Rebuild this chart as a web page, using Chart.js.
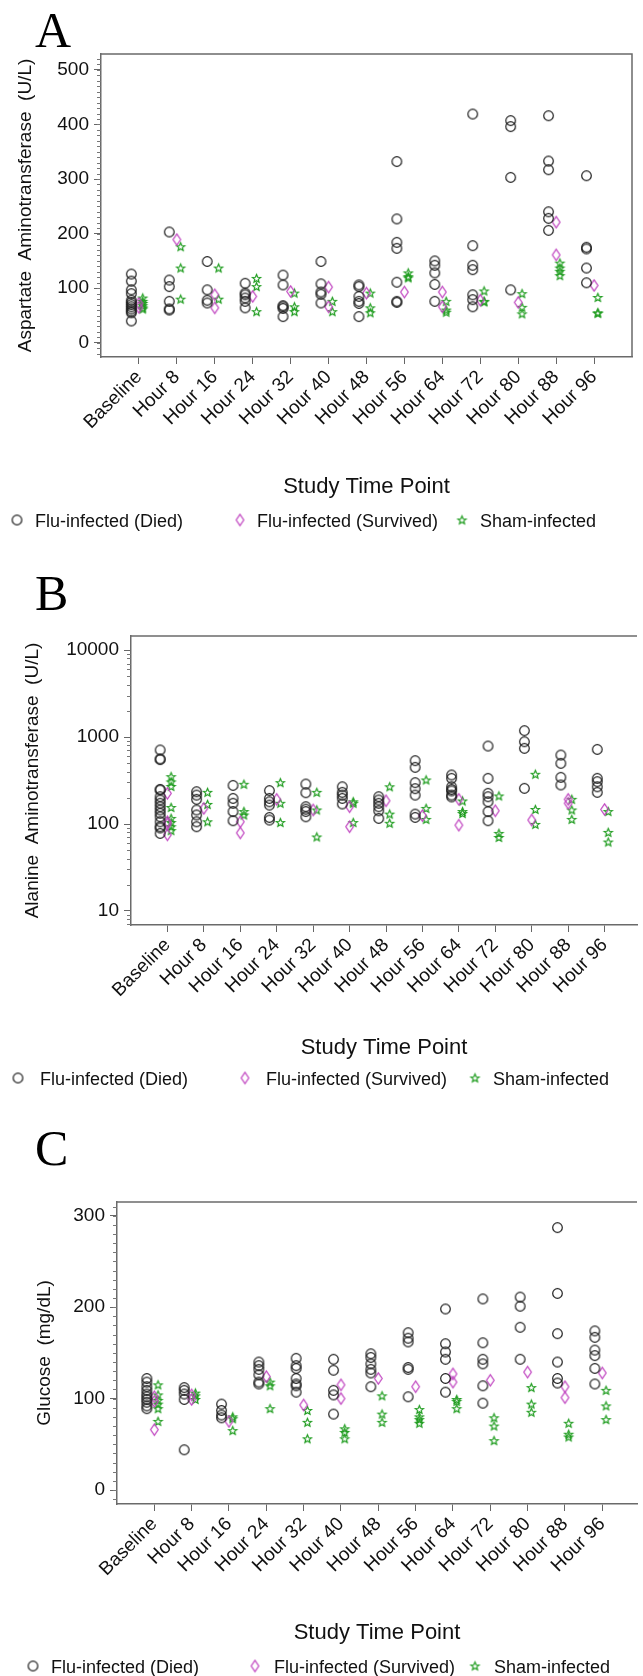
<!DOCTYPE html>
<html>
<head>
<meta charset="utf-8">
<script src="https://cdn.jsdelivr.net/npm/chart.js@4.4.1/dist/chart.umd.min.js"></script>
<style>
  body { margin: 0; background: #fff; }
  canvas { position: absolute; left: 0; }
</style>
</head>
<body>
<canvas id="chartA" width="643" height="540" style="top:0px"></canvas>
<canvas id="chartB" width="643" height="560" style="top:540px"></canvas>
<canvas id="chartC" width="643" height="576" style="top:1100px"></canvas>
<script>
// categories and legend
const categories = ['Baseline', 'Hour 8', 'Hour 16', 'Hour 24', 'Hour 32', 'Hour 40', 'Hour 48',
  'Hour 56', 'Hour 64', 'Hour 72', 'Hour 80', 'Hour 88', 'Hour 96'];
const groupLabels = ['Flu-infected (Died)', 'Flu-infected (Survived)', 'Sham-infected'];

// tick labels
const astTicks = [0, 100, 200, 300, 400, 500];
const altTicks = [10, 100, 1000, 10000];
const gluTicks = [0, 100, 200, 300];

// A: aspartate aminotransferase (U/L), one list per time point
const astDied = [
  [126, 113, 97, 90, 78, 74, 70, 66, 62, 58, 55, 40],
  [203, 115, 103, 76, 62, 60],
  [149, 97, 78, 73],
  [109, 91, 88, 82, 76, 64],
  [124, 106, 68, 66, 63, 48],
  [149, 108, 93, 89, 73],
  [106, 103, 85, 76, 72, 48],
  [332, 227, 184, 173, 111, 76, 74],
  [150, 142, 128, 107, 76],
  [419, 178, 142, 134, 88, 79, 66],
  [407, 396, 303, 97],
  [416, 333, 317, 240, 228, 206],
  [306, 175, 172, 137, 110]
];
const astSurvived = [
  [72, 65], [189], [88, 64], [85], [94], [102, 66], [91],
  [93], [93, 66], [78], [74], [221, 161], [105]
];
const astSham = [
  [82, 76, 72, 68, 64, 62],
  [176, 137, 80],
  [137, 80],
  [118, 103, 57],
  [91, 66, 57],
  [76, 57],
  [91, 64, 55],
  [128, 121, 119],
  [76, 60, 56],
  [95, 76, 75],
  [90, 65, 53],
  [146, 137, 131, 123],
  [83, 55, 54]
];

// B: alanine aminotransferase (U/L)
const altDied = [
  [710, 560, 550, 250, 246, 206, 189, 173, 158, 145, 133, 121, 106, 93, 90, 78],
  [235, 215, 192, 145, 127, 106, 93],
  [278, 197, 173, 139, 109],
  [242, 197, 180, 165, 119, 111],
  [288, 229, 158, 148, 139, 121],
  [268, 231, 215, 197, 170],
  [206, 189, 173, 158, 142, 116],
  [535, 448, 299, 255, 215, 130, 119],
  [366, 335, 268, 250, 240, 215, 205],
  [788, 335, 225, 206, 180, 139, 109],
  [1183, 883, 741, 257],
  [621, 498, 344, 281],
  [721, 335, 307, 268, 231]
];
const altSurvived = [
  [225, 106, 100, 75], [151], [106, 79], [192], [145], [158, 93], [185],
  [125], [192, 97], [142], [111], [192, 173], [147]
];
const altSham = [
  [350, 305, 270, 155, 116, 104, 93, 84],
  [231, 168, 106],
  [286, 139, 127],
  [299, 173, 104],
  [231, 145, 71],
  [180, 173, 104],
  [268, 130, 102],
  [321, 151, 113],
  [184, 139, 132],
  [210, 78, 70],
  [373, 147, 99],
  [192, 145, 113],
  [139, 80, 62]
];

// C: glucose (mg/dL)
const gluDied = [
  [122, 118, 113, 109, 105, 102, 99, 96, 92, 89],
  [112, 109, 105, 99, 44],
  [94, 87, 82, 79],
  [140, 136, 132, 126, 118, 116],
  [144, 136, 133, 122, 116, 114, 107],
  [143, 131, 109, 104, 83],
  [149, 145, 138, 132, 128, 113],
  [172, 166, 162, 134, 132, 102],
  [198, 160, 151, 143, 122, 107],
  [209, 161, 143, 138, 114, 95],
  [211, 201, 178, 143],
  [287, 215, 171, 140, 122, 117],
  [174, 167, 153, 147, 133, 116]
];
const gluSurvived = [
  [102, 97, 66], [104, 99], [75], [124], [93], [115, 100], [122],
  [113], [127, 118], [120], [129], [113, 101], [128]
];
const gluSham = [
  [115, 104, 98, 94, 89, 75],
  [106, 103, 99],
  [80, 78, 65],
  [118, 114, 89],
  [87, 74, 56],
  [67, 63, 56],
  [103, 83, 74],
  [88, 80, 77, 73],
  [99, 97, 89],
  [79, 70, 54],
  [112, 94, 85],
  [73, 61, 58],
  [109, 92, 77]
];

const FONT = '"Liberation Sans", Arial, sans-serif';
const offsets = [-0.2, 0, 0.1];   // circle / diamond / star side by side

function markerImage(kind) {
  const c = document.createElement('canvas');
  c.width = 15; c.height = 15;
  const g = c.getContext('2d');
  g.lineWidth = 1.2;
  g.beginPath();
  if (kind === 'circle') {
    g.strokeStyle = '#1e1e1e';
    g.arc(7.5, 7.5, 4.8, 0, Math.PI * 2);
  } else if (kind === 'diamond') {
    g.strokeStyle = '#c044c0';
    g.moveTo(7.5, 1.8); g.lineTo(11.3, 7.5); g.lineTo(7.5, 13.2); g.lineTo(3.7, 7.5); g.closePath();
  } else {
    g.strokeStyle = '#1e9c1e';
    for (let k = 0; k < 10; k++) {
      const r = k % 2 === 0 ? 4.3 : 1.9;
      const a = -Math.PI / 2 + k * Math.PI / 5;
      const px = 7.5 + r * Math.cos(a), py = 7.8 + r * Math.sin(a);
      if (k === 0) g.moveTo(px, py); else g.lineTo(px, py);
    }
    g.closePath();
  }
  g.stroke();
  return c;
}
const markers = [markerImage('circle'), markerImage('diamond'), markerImage('star')];

function toPoints(groups, off) {
  const pts = [];
  groups.forEach((vals, i) => vals.forEach(v => pts.push({ x: i + 1 + off, y: v })));
  return pts;
}

// box, minor ticks, panel letter, x title and legend
const panelDecor = {
  id: 'panelDecor',
  afterDraw(chart, args, opts) {
    const { ctx, chartArea: { left, top, right, bottom } } = chart;
    ctx.save();
    ctx.strokeStyle = '#6a6a6a';
    ctx.lineWidth = 1.5;
    ctx.beginPath();
    ctx.moveTo(left, top);
    ctx.lineTo(right, top);
    if (opts.closeRight) ctx.lineTo(right, bottom);
    ctx.stroke();

    const yScale = chart.scales.y;
    ctx.lineWidth = 1;
    ctx.strokeStyle = '#777';
    opts.minorTicks.forEach(v => {
      const y = Math.round(yScale.getPixelForValue(v)) + 0.5;
      if (y < top || y > bottom) return;
      ctx.beginPath();
      ctx.moveTo(left - 4, y);
      ctx.lineTo(left, y);
      ctx.stroke();
    });

    ctx.fillStyle = '#000';
    ctx.font = '50px "Liberation Serif", "Times New Roman", serif';
    ctx.textAlign = 'left';
    ctx.textBaseline = 'alphabetic';
    ctx.fillText(opts.letter, 35, opts.letterY);

    ctx.fillStyle = '#111';
    ctx.font = '22px ' + FONT;
    ctx.textAlign = 'center';
    ctx.textBaseline = 'middle';
    ctx.fillText('Study Time Point', (left + right) / 2, opts.titleY);

    ctx.font = '18px ' + FONT;
    ctx.textAlign = 'left';
    groupLabels.forEach((lab, k) => {
      const m = markers[k];
      ctx.drawImage(m, opts.legendMarkX[k] - m.width / 2, opts.legendY - 2 - m.height / 2);
      ctx.fillText(lab, opts.legendTextX[k], opts.legendY);
    });
    ctx.restore();
  }
};

function buildChart(id, spec) {
  const canvas = document.getElementById(id);
  const H = canvas.height;
  const datasets = [spec.died, spec.survived, spec.sham].map((groups, k) => ({
    label: groupLabels[k],
    data: toPoints(groups, offsets[k]),
    pointStyle: markers[k],
    pointRadius: 5,
    showLine: false
  }));
  const tickFont = { family: FONT, size: 19 };
  return new Chart(canvas, {
    type: 'scatter',
    data: { datasets },
    options: {
      responsive: false,
      animation: false,
      events: [],
      layout: { padding: { top: spec.top, right: spec.padRight, left: 0, bottom: 0 } },
      scales: {
        x: {
          type: 'linear',
          min: 0,
          max: spec.xMax,
          bounds: 'data',
          afterBuildTicks: s => { s.ticks = categories.map((c, i) => ({ value: i + 1 })); },
          afterFit: s => { s.height = H - spec.bottom; },
          ticks: {
            autoSkip: false, minRotation: 45, maxRotation: 45, padding: 2,
            font: tickFont, color: '#111',
            callback: v => categories[v - 1]
          },
          grid: { drawOnChartArea: false, tickLength: 7, tickColor: '#666', tickWidth: 1 },
          border: { color: '#6a6a6a', width: 1.5 }
        },
        y: {
          type: spec.yType,
          min: spec.yMin,
          max: spec.yMax,
          bounds: 'data',
          afterBuildTicks: s => { s.ticks = spec.yTicks.map(v => ({ value: v })); },
          afterFit: s => { s.width = spec.left; },
          ticks: { font: tickFont, color: '#111', padding: 5, callback: v => String(v) },
          grid: { drawOnChartArea: false, tickLength: 7, tickColor: '#666', tickWidth: 1 },
          border: { color: '#6a6a6a', width: 1.5 },
          title: {
            display: true, text: spec.yTitle, color: '#111',
            font: { family: FONT, size: 19 },
            padding: { top: spec.yTitlePad, bottom: 0 }
          }
        }
      },
      plugins: {
        legend: { display: false },
        tooltip: { enabled: false },
        panelDecor: spec.decor
      }
    },
    plugins: [panelDecor]
  });
}

function linearMinor(from, to) {
  const out = [];
  for (let v = from; v <= to; v += 10) out.push(v);
  return out;
}
function logMinor() {
  const out = [];
  for (let e = 0; e <= 4; e++) for (let k = 2; k <= 9; k++) out.push(k * Math.pow(10, e));
  return out;
}

buildChart('chartA', {
  died: astDied, survived: astSurvived, sham: astSham,
  top: 54, bottom: 357, left: 101, padRight: 11, xMax: 14,
  yType: 'linear', yMin: -26, yMax: 529, yTicks: astTicks,
  yTitle: 'Aspartate  Aminotransferase  (U/L)', yTitlePad: 14,
  decor: {
    closeRight: true, minorTicks: linearMinor(-20, 520), letter: 'A', letterY: 47,
    titleY: 487, legendY: 522, legendMarkX: [17, 240, 462], legendTextX: [35, 257, 480]
  }
});

buildChart('chartB', {
  died: altDied, survived: altSurvived, sham: altSham,
  top: 96, bottom: 385, left: 131, padRight: 0, xMax: 13.89,
  yType: 'logarithmic', yMin: 6.9, yMax: 14500, yTicks: altTicks,
  yTitle: 'Alanine  Aminotransferase  (U/L)', yTitlePad: 21,
  decor: {
    closeRight: false, minorTicks: logMinor(), letter: 'B', letterY: 70,
    titleY: 508, legendY: 540, legendMarkX: [18, 245, 475], legendTextX: [40, 266, 493]
  }
});

buildChart('chartC', {
  died: gluDied, survived: gluSurvived, sham: gluSham,
  top: 102, bottom: 404, left: 117, padRight: 0, xMax: 13.93,
  yType: 'linear', yMin: -15.3, yMax: 315, yTicks: gluTicks,
  yTitle: 'Glucose  (mg/dL)', yTitlePad: 33,
  decor: {
    closeRight: false, minorTicks: linearMinor(-10, 310), letter: 'C', letterY: 65,
    titleY: 533, legendY: 568, legendMarkX: [33, 255, 475], legendTextX: [51, 274, 494]
  }
});
</script>
</body>
</html>
